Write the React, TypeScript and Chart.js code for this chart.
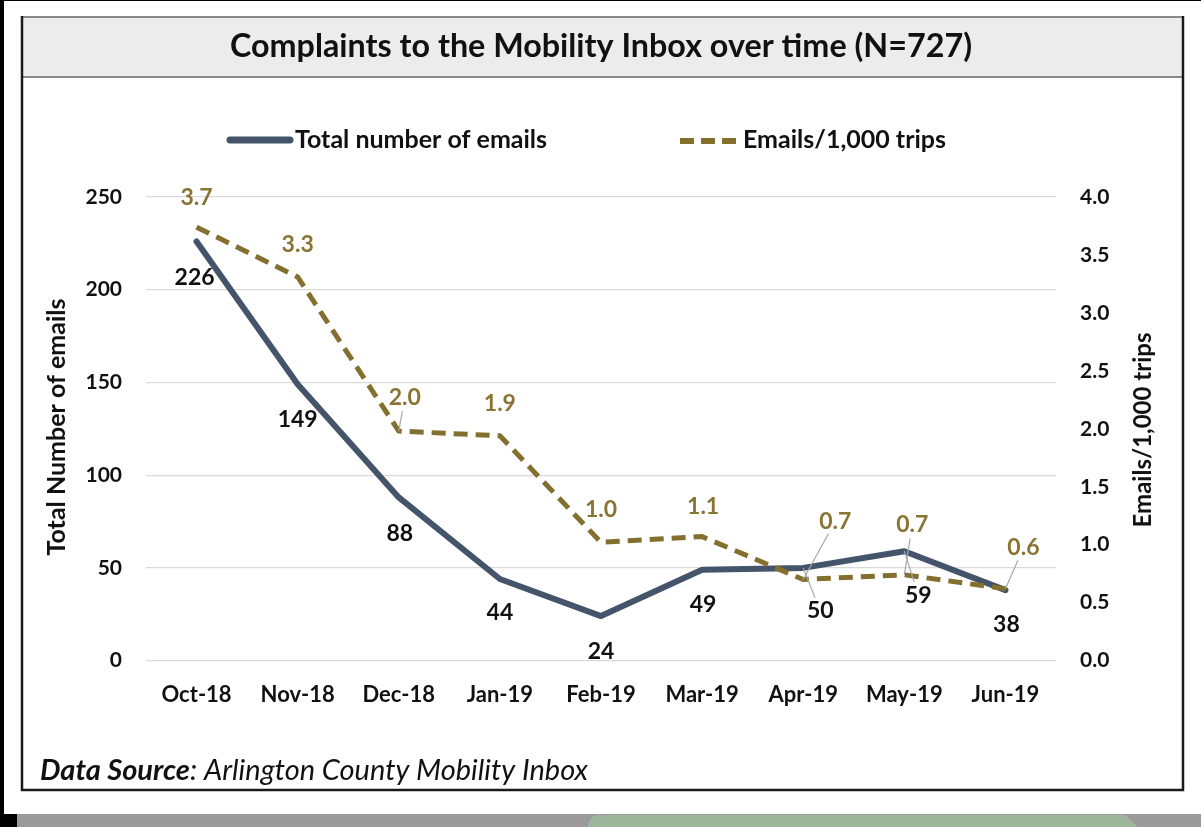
import React, { useEffect, useRef } from "react";
import { Chart, registerables } from "chart.js";

Chart.register(...registerables);

const categories = ["Oct-18", "Nov-18", "Dec-18", "Jan-19", "Feb-19", "Mar-19", "Apr-19", "May-19", "Jun-19"];
const totalEmails = [226, 149, 88, 44, 24, 49, 50, 59, 38];
const emailsPer1000 = [3.74, 3.31, 1.98, 1.94, 1.02, 1.07, 0.7, 0.74, 0.62];
const leftTicks = [0, 50, 100, 150, 200, 250];
const rightTicks = [0, 0.5, 1, 1.5, 2, 2.5, 3, 3.5, 4];

const TITLE = "Complaints to the Mobility Inbox over time (N=727)";
const LEFT_AXIS_TITLE = "Total Number of emails";
const RIGHT_AXIS_TITLE = "Emails/1,000 trips";
const LEGEND_TOTAL = "Total number of emails";
const LEGEND_RATE = "Emails/1,000 trips";
const SOURCE_BOLD = "Data Source";
const SOURCE_REST = ": Arlington County Mobility Inbox";

// label placement (offsets relative to each point, in px)
const totalLabelOffsets = [[-2, 36], [0, 35], [1, 36], [0, 34], [0, 35], [1, 35], [17, 43], [14, 44], [1, 34]];
const rateLabelOffsets = [[0, -30], [0, -32], [6, -34], [0, -32], [0, -33], [1, -30], [32, -58], [8, -50], [18, -41]];
const totalLeaders = [false, false, false, false, false, false, true, true, false];
const rateLeaders = [false, false, true, false, false, false, true, true, true];

const FONT = "Lato, 'Open Sans', sans-serif";
const NAVY = "#44546a";
const GOLD = "#84702e";
const GOLD_TEXT = "#8a7434";

const framePlugin = {
  id: "frame",
  beforeDraw(chart: any) {
    const ctx = chart.ctx;
    const W = chart.width;
    const H = chart.height;
    ctx.save();
    ctx.fillStyle = "#ffffff";
    ctx.fillRect(0, 0, W, H);
    // black strip at left
    ctx.fillStyle = "#000";
    ctx.fillRect(0, 0, 4, 814);
    ctx.fillRect(0, 0, W, 1);
    // bottom bar
    ctx.fillStyle = "#9a9a9a";
    ctx.fillRect(0, 814, W, H - 814);
    ctx.fillStyle = "#000";
    ctx.fillRect(0, 814, 17, H - 814);
    ctx.fillStyle = "#9cb59b";
    ctx.beginPath();
    ctx.moveTo(588, H);
    ctx.lineTo(588, 824);
    ctx.quadraticCurveTo(590, 815, 600, 815);
    ctx.lineTo(1125, 815);
    ctx.lineTo(1138, H);
    ctx.closePath();
    ctx.fill();
    // title band
    ctx.fillStyle = "#ececec";
    ctx.fillRect(21, 16, 1162, 61);
    ctx.strokeStyle = "#8a8a8a";
    ctx.lineWidth = 2;
    ctx.beginPath();
    ctx.moveTo(21, 17);
    ctx.lineTo(1183, 17);
    ctx.moveTo(21, 77);
    ctx.lineTo(1183, 77);
    ctx.stroke();
    // box border
    ctx.strokeStyle = "#1a1a1a";
    ctx.lineWidth = 2.5;
    ctx.beginPath();
    ctx.moveTo(22, 16);
    ctx.lineTo(22, 790);
    ctx.lineTo(1183, 790);
    ctx.lineTo(1183, 16);
    ctx.stroke();
    // title
    ctx.fillStyle = "#111";
    ctx.font = `bold 32.3px ${FONT}`;
    ctx.textAlign = "center";
    ctx.textBaseline = "middle";
    ctx.fillText(TITLE, 601, 47);
    ctx.restore();
  },
  afterDraw(chart: any) {
    const ctx = chart.ctx;
    ctx.save();
    // legend
    ctx.strokeStyle = NAVY;
    ctx.lineWidth = 7;
    ctx.lineCap = "round";
    ctx.beginPath();
    ctx.moveTo(230, 140);
    ctx.lineTo(290, 140);
    ctx.stroke();
    ctx.strokeStyle = GOLD;
    ctx.lineWidth = 6;
    ctx.lineCap = "butt";
    ctx.setLineDash([14, 7]);
    ctx.beginPath();
    ctx.moveTo(680, 141);
    ctx.lineTo(738, 141);
    ctx.stroke();
    ctx.setLineDash([]);
    ctx.fillStyle = "#111";
    ctx.font = `bold 25px ${FONT}`;
    ctx.textAlign = "left";
    ctx.textBaseline = "middle";
    ctx.fillText(LEGEND_TOTAL, 295, 140);
    ctx.fillText(LEGEND_RATE, 743, 140);

    // axis titles
    ctx.textAlign = "center";
    ctx.font = `bold 25px ${FONT}`;
    ctx.save();
    ctx.translate(57, 427);
    ctx.rotate(-Math.PI / 2);
    ctx.fillText(LEFT_AXIS_TITLE, 0, 0);
    ctx.restore();
    ctx.font = `bold 24px ${FONT}`;
    ctx.save();
    ctx.translate(1143, 430);
    ctx.rotate(-Math.PI / 2);
    ctx.fillText(RIGHT_AXIS_TITLE, 0, 0);
    ctx.restore();

    // data source
    ctx.textAlign = "left";
    ctx.textBaseline = "alphabetic";
    ctx.font = `italic bold 29px ${FONT}`;
    ctx.fillStyle = "#111";
    ctx.fillText(SOURCE_BOLD, 40, 780);
    const w = ctx.measureText(SOURCE_BOLD).width;
    ctx.font = `italic 29px ${FONT}`;
    ctx.fillText(SOURCE_REST, 40 + w, 780);
    ctx.restore();
  },
  afterDatasetsDraw(chart: any) {
    const ctx = chart.ctx;
    ctx.save();
    ctx.textAlign = "center";
    ctx.textBaseline = "middle";
    const drawSet = (dsIndex: number, offsets: number[][], leaders: boolean[], color: string, fmt: (v: number) => string) => {
      const meta = chart.getDatasetMeta(dsIndex);
      const data = chart.data.datasets[dsIndex].data as number[];
      meta.data.forEach((pt: any, i: number) => {
        const [dx, dy] = offsets[i];
        const lx = pt.x + dx;
        const ly = pt.y + dy;
        if (leaders[i]) {
          const dist = Math.hypot(dx, dy);
          const sx = lx - (dx / dist) * 14;
          const sy = ly - (dy / dist) * 14;
          ctx.strokeStyle = "#a6a6a6";
          ctx.lineWidth = 1.2;
          ctx.beginPath();
          ctx.moveTo(sx, sy);
          ctx.lineTo(pt.x, pt.y);
          ctx.stroke();
        }
        ctx.fillStyle = color;
        ctx.font = `bold 23px ${FONT}`;
        ctx.fillText(fmt(data[i]), lx, ly);
      });
    };
    drawSet(0, totalLabelOffsets, totalLeaders, "#111", (v) => String(v));
    drawSet(1, rateLabelOffsets, rateLeaders, GOLD_TEXT, (v) => v.toFixed(1));
    ctx.restore();
  },
};

export default function App() {
  const canvasRef = useRef<HTMLCanvasElement | null>(null);
  useEffect(() => {
    document.body.style.margin = "0";
    const canvas = canvasRef.current;
    if (!canvas) return;
    const chart = new Chart(canvas, {
      type: "line",
      data: {
        labels: categories,
        datasets: [
          {
            label: LEGEND_TOTAL,
            data: totalEmails,
            yAxisID: "y",
            borderColor: NAVY,
            backgroundColor: NAVY,
            borderWidth: 6,
            borderCapStyle: "round",
            borderJoinStyle: "round",
            pointRadius: 0,
            tension: 0,
            order: 1,
          },
          {
            label: LEGEND_RATE,
            data: emailsPer1000,
            yAxisID: "y1",
            borderColor: GOLD,
            backgroundColor: GOLD,
            borderWidth: 5,
            borderDash: [14, 8],
            borderJoinStyle: "round",
            pointRadius: 0,
            tension: 0,
            order: 0,
          },
        ],
      },
      options: {
        responsive: false,
        animation: false,
        devicePixelRatio: 1,
        layout: { padding: { left: 45, right: 46, top: 197, bottom: 106 } },
        plugins: {
          legend: { display: false },
          title: { display: false },
          tooltip: { enabled: false },
        },
        scales: {
          x: {
            type: "category",
            offset: true,
            grid: { display: false },
            border: { display: false },
            ticks: { color: "#111", font: { family: FONT, size: 22, weight: "bold" }, padding: 13, maxRotation: 0 },
          },
          y: {
            position: "left",
            min: 0,
            max: 250,
            afterBuildTicks: (scale: any) => {
              scale.ticks = leftTicks.map((v) => ({ value: v }));
            },
            afterFit: (scale: any) => {
              scale.width = 101;
            },
            grid: { color: "#d9d9d9", lineWidth: 1.2, drawTicks: false },
            border: { display: false },
            ticks: { color: "#111", font: { family: FONT, size: 21, weight: "bold" }, padding: 24 },
          },
          y1: {
            position: "right",
            min: 0,
            max: 4,
            afterBuildTicks: (scale: any) => {
              scale.ticks = rightTicks.map((v) => ({ value: v }));
            },
            afterFit: (scale: any) => {
              scale.width = 99;
            },
            grid: { drawOnChartArea: false, drawTicks: false },
            border: { display: false },
            ticks: {
              color: "#111",
              font: { family: FONT, size: 21, weight: "bold" },
              padding: 24,
              callback: (v: any) => Number(v).toFixed(1),
            },
          },
        },
      },
      plugins: [framePlugin],
    });
    return () => chart.destroy();
  }, []);
  return (
    <div style={{ position: "absolute", left: 0, top: 0, width: 1201, height: 827 }}>
      <canvas ref={canvasRef} width={1201} height={827} style={{ display: "block" }} />
    </div>
  );
}
